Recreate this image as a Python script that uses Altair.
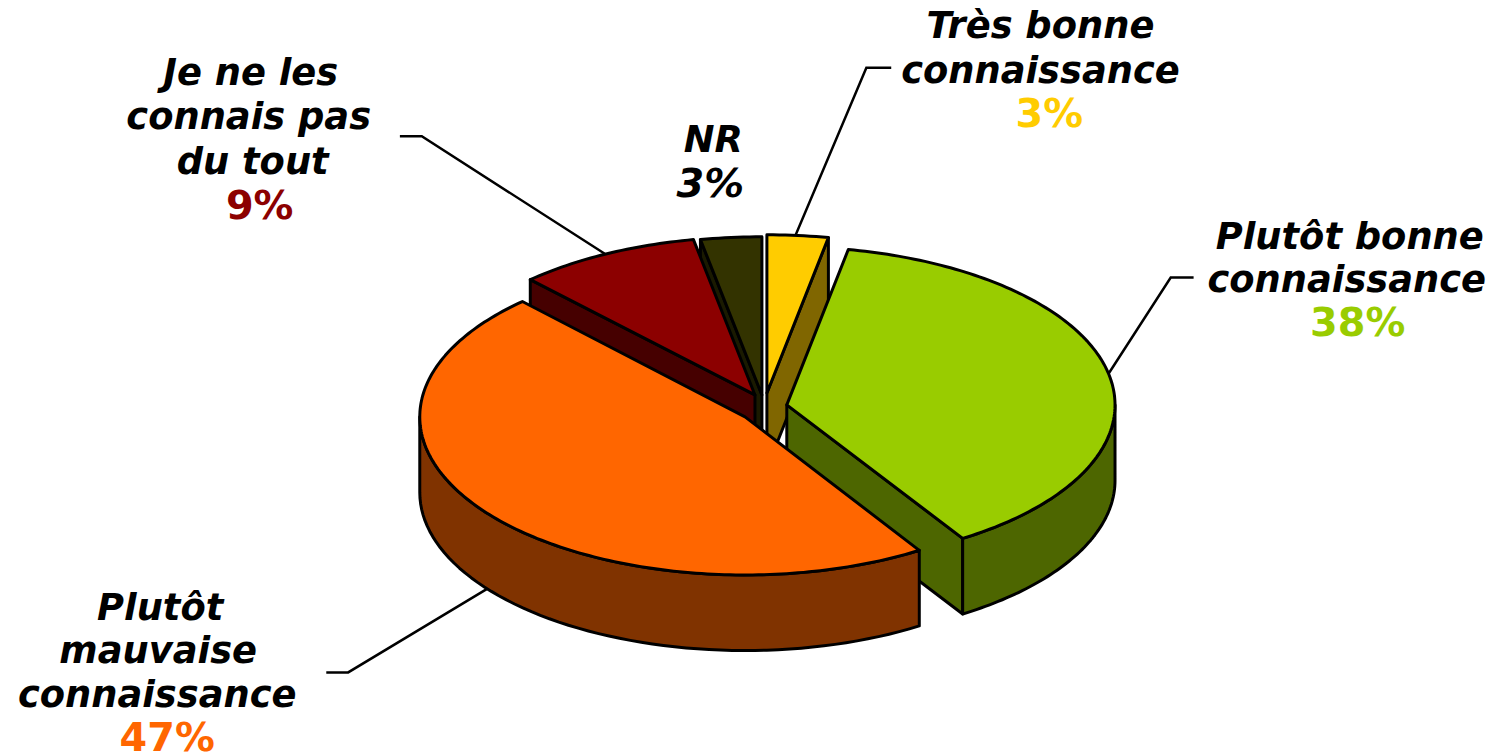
import math
import altair as alt
import pandas as pd

# --- values ---
slices = ["Très bonne connaissance", "Plutôt bonne connaissance",
          "Plutôt mauvaise connaissance", "Je ne les connais pas du tout", "NR"]
percent = [3, 38, 47, 9, 3]

# --- styling / layout ---
top_colors = ["#FFCC00", "#99CC00", "#FF6600", "#8C0000", "#333300"]
wall_colors = ["#806600", "#4D6600", "#803300", "#460000", "#1A1A00"]
apex_x = [767, 787, 745, 755, 762]
apex_y = [393, 405, 417, 395, 395]
radius_x = [330, 330, 327, 330, 330]
paint_order = [0, 4, 3, 1, 2]
RY, DEPTH = 159, 76
W, H = 1489, 748
PIE_OFF_X, PIE_OFF_Y = -4, 8
TXT_OFF_X, TXT_OFF_Y = 3, 10

label_text = ["Très bonne", "connaissance", "3%",
              "Plutôt bonne", "connaissance", "38%",
              "Plutôt", "mauvaise", "connaissance", "47%",
              "Je ne les", "connais pas", "du tout", "9%",
              "NR", "3%"]
label_x = [1041, 1041, 1050, 1352, 1349, 1360, 156, 154, 153, 163, 247, 245, 249, 256, 712, 709]
label_y = [38, 83, 128, 250, 294, 338, 623, 667, 711, 755, 85, 130, 175, 220, 153, 198]
label_color = ["#000000", "#000000", "#FFCC00", "#000000", "#000000", "#99CC00",
               "#000000", "#000000", "#000000", "#FF6600",
               "#000000", "#000000", "#000000", "#8C0000", "#000000", "#000000"]
label_style = ["italic", "italic", "normal", "italic", "italic", "normal",
               "italic", "italic", "italic", "normal",
               "italic", "italic", "italic", "normal", "italic", "italic"]

leader_id = [0, 0, 0, 1, 1, 1, 2, 2, 2, 3, 3, 3]
leader_x = [891, 866, 795, 1195, 1172, 1108, 397, 419, 603, 323, 345, 488]
leader_y = [68, 68, 236, 279, 279, 378, 137, 137, 255, 676, 676, 590]


def pt(i, deg, dz=0):
    t = math.radians(deg)
    return [apex_x[i] + radius_x[i] * math.sin(t) - PIE_OFF_X - 8,
            apex_y[i] - RY * math.cos(t) + dz - PIE_OFF_Y]


def apex(i, dz=0):
    return [apex_x[i] - PIE_OFF_X - 8, apex_y[i] + dz - PIE_OFF_Y]


def feature(coords, color):
    ring = coords + [coords[0]]
    return {"type": "Feature", "properties": {"color": color},
            "geometry": {"type": "Polygon", "coordinates": [ring]}}


starts, acc = [], 0.0
for p in percent:
    starts.append(acc)
    acc += p * 3.6

features = []
for i in paint_order:
    a0 = starts[i]
    a1 = a0 + percent[i] * 3.6
    wall = wall_colors[i]
    # cut faces: only those turned towards the viewer
    if a0 > 180:
        features.append(feature([apex(i), pt(i, a0), pt(i, a0, DEPTH), apex(i, DEPTH)], wall))
    if a1 < 180:
        features.append(feature([apex(i), pt(i, a1), pt(i, a1, DEPTH), apex(i, DEPTH)], wall))
    # outer rim, only its front half
    r0, r1 = max(a0, 90), min(a1, 270)
    if r1 > r0:
        n = 60
        angs = [r0 + (r1 - r0) * k / n for k in range(n + 1)]
        features.append(feature([pt(i, a) for a in angs] +
                                [pt(i, a, DEPTH) for a in reversed(angs)], wall))
    # top
    n = max(4, int(a1 - a0))
    angs = [a0 + (a1 - a0) * k / n for k in range(n + 1)]
    features.append(feature([apex(i)] + [pt(i, a) for a in angs], top_colors[i]))

pie = alt.Chart(alt.Data(values=features)).mark_geoshape(
    stroke="black", strokeWidth=3, strokeJoin="round"
).encode(
    fill=alt.Fill("properties.color:N", scale=None)
).project(type="identity", scale=1, translate=[0, 0])

xs = alt.Scale(domain=[0, W], range=[0, W])
ys = alt.Scale(domain=[0, H], range=[0, H])

labels = pd.DataFrame({"t": label_text,
                       "x": [v - TXT_OFF_X for v in label_x],
                       "y": [v - TXT_OFF_Y for v in label_y],
                       "c": label_color, "s": label_style})
leaders = pd.DataFrame({"id": leader_id,
                        "x": [v - TXT_OFF_X for v in leader_x],
                        "y": [v - TXT_OFF_Y for v in leader_y],
                        "o": list(range(len(leader_id)))})

lines = alt.Chart(leaders).mark_line(color="black", strokeWidth=2.5).encode(
    x=alt.X("x:Q", scale=xs, axis=None),
    y=alt.Y("y:Q", scale=ys, axis=None),
    detail="id:N", order="o:Q")


def text_layer(style, rows, size):
    return alt.Chart(rows).mark_text(
        font="DejaVu Sans", fontSize=size, fontWeight="bold", fontStyle=style,
        align="center", baseline="alphabetic"
    ).encode(
        x=alt.X("x:Q", scale=xs, axis=None),
        y=alt.Y("y:Q", scale=ys, axis=None),
        text="t:N",
        color=alt.Color("c:N", scale=None))


pct = labels.t.str.endswith("%")
chart = alt.layer(
    lines, pie,
    text_layer("italic", labels[(labels.s == "italic") & ~pct], 37),
    text_layer("italic", labels[(labels.s == "italic") & pct], 40),
    text_layer("normal", labels[labels.s == "normal"], 40),
).resolve_scale(x="shared", y="shared").properties(
    width=W, height=H, padding=0, autosize=alt.AutoSizeParams(type="none")
).configure_view(stroke=None)

chart.save("out.html", embed_options={"renderer": "svg", "actions": False})
